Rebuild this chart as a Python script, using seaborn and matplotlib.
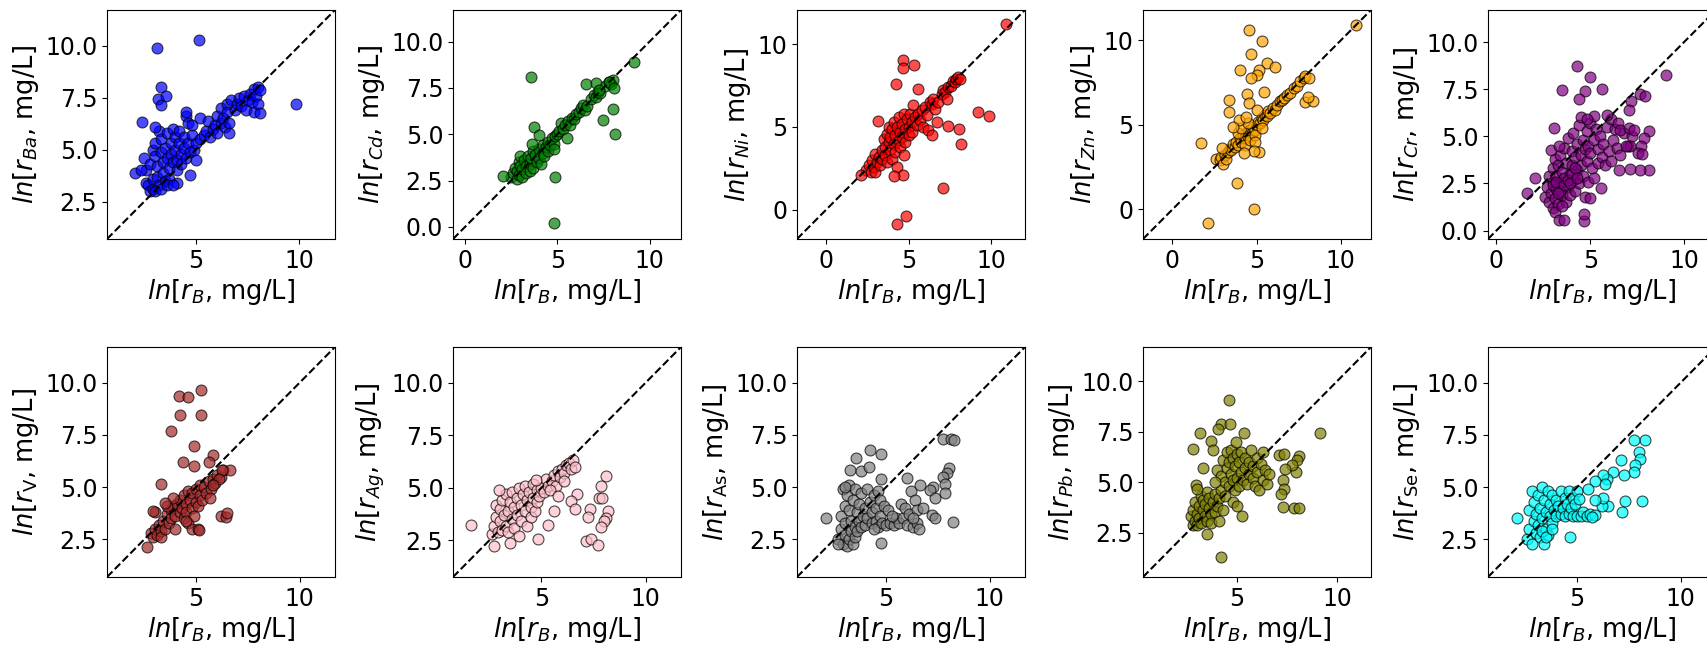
import matplotlib
matplotlib.use("Agg")
import matplotlib.pyplot as plt
import seaborn as sns
import numpy as np
from matplotlib.ticker import MultipleLocator

# ---------------- data (ln concentrations) ----------------
ba_x = [2.5,2.6,2.6,2.7,2.8,2.9,2.9,2.8,2.9,3.0,3.0,3.1,3.1,3.2,3.2,3.0,3.3,3.3,3.4,3.4,3.5,3.5,3.6,3.6,3.7,3.7,3.8,3.8,3.9,3.9,
        4.0,4.0,4.1,4.1,4.1,4.2,4.2,4.3,4.3,4.4,4.4,4.5,4.5,4.5,4.6,4.6,4.7,4.7,4.8,4.8,4.9,5.0,5.0,5.2,5.2,5.4,5.5,5.6,5.7,5.8,
        5.9,6.0,6.0,6.2,6.2,6.3,6.4,6.5,6.5,6.6,6.6,6.7,6.9,7.0,7.1,7.2,7.3,7.4,7.5,7.6,7.7,7.8,7.8,7.9,8.0,8.0,8.1,8.1,2.05,2.4,
        2.35,3.0,3.3,3.6,3.9,3.1,5.15,9.85,3.3,3.15,3.55,3.3]
ba_y = [4.6,4.0,3.4,3.3,3.0,3.1,3.6,4.3,5.0,5.3,4.7,4.2,3.7,3.3,5.9,6.1,5.5,4.9,4.4,3.9,3.5,5.1,5.8,4.6,4.1,3.6,5.3,4.8,4.4,6.0,
        5.6,5.0,4.5,4.0,3.4,5.3,5.9,4.8,4.3,5.6,5.1,4.6,6.6,6.8,6.3,5.3,4.9,3.8,5.7,6.2,5.0,5.3,4.5,5.5,6.5,5.7,5.9,6.4,5.6,6.0,
        6.2,6.6,5.8,6.3,7.0,6.5,6.1,7.2,6.8,6.3,5.8,7.4,6.9,7.2,7.5,7.1,7.6,6.9,7.4,7.7,7.3,7.9,6.8,7.6,8.0,7.2,6.75,7.85,3.9,6.35,
        4.0,3.0,3.1,3.3,3.3,9.9,10.3,7.2,8.0,7.45,7.6,7.15]

cd_x = [2.5,2.6,2.7,2.8,2.8,2.9,2.9,3.0,3.0,3.1,3.1,3.2,3.3,3.3,3.4,3.5,3.5,3.6,3.7,3.7,3.8,3.9,4.0,4.0,4.1,4.2,4.2,4.3,4.4,4.5,
        4.5,4.6,4.7,4.8,4.8,4.9,5.0,5.1,5.2,5.3,5.4,5.6,5.7,5.8,5.9,6.0,6.2,6.3,6.4,6.5,6.6,6.8,7.0,7.1,7.2,7.3,7.6,7.8,7.9,8.0,
        3.55,9.16,8.0,8.12,7.45,4.85,4.81,2.06,3.72,3.99,5.53,6.55,7.09,7.27,7.8,8.08,3.63]
cd_y = [2.7,2.9,3.2,2.6,3.0,3.5,2.8,3.8,3.3,2.7,3.1,3.6,3.3,2.9,3.8,3.4,3.0,3.7,4.1,3.2,3.9,3.5,4.2,3.7,3.4,4.0,4.4,3.8,4.3,4.6,
        4.1,4.4,4.8,4.5,4.2,4.9,5.0,5.2,5.6,5.3,5.5,5.7,5.5,5.9,5.8,6.1,6.2,6.4,6.6,6.3,6.5,6.9,7.1,7.0,7.3,7.2,7.6,7.8,7.7,7.9,
        8.07,8.92,6.34,4.99,5.77,2.70,0.22,2.74,5.37,4.95,4.77,7.71,7.75,7.39,7.84,7.48,4.5]

ni_x = [2.4,2.6,2.7,2.8,2.9,3.0,3.0,3.1,3.2,3.3,3.4,3.4,3.5,3.6,3.6,3.7,3.7,3.8,3.8,3.9,3.9,4.0,4.0,4.1,4.1,4.2,4.2,4.3,4.3,4.4,
        4.4,4.5,4.5,4.6,4.6,4.7,4.7,4.8,4.8,4.9,5.0,5.0,5.1,5.2,5.2,5.3,5.4,5.5,5.6,5.7,5.8,5.9,6.0,6.1,6.2,6.3,6.4,6.4,6.5,6.6,
        6.7,6.8,7.0,7.1,7.2,7.3,7.4,7.6,7.7,7.8,7.9,8.0,8.1,
        10.9,4.68,4.64,5.34,4.27,5.6,9.21,9.88,7.36,8.06,8.17,7.06,4.29,4.84,3.17,2.12,4.64,4.13]
ni_y = [2.4,2.7,2.3,3.0,2.6,3.4,2.3,2.9,3.2,2.7,3.6,3.1,4.3,3.8,3.3,4.6,2.9,4.1,5.0,3.6,4.4,4.9,3.1,4.0,5.3,4.5,3.5,2.6,5.0,4.2,
        5.6,4.7,3.8,5.2,4.4,5.8,3.3,4.9,4.1,5.5,5.0,4.5,5.8,5.3,4.7,6.3,5.6,5.1,5.8,5.4,6.0,5.0,6.2,5.7,4.8,6.5,6.4,4.5,6.7,6.1,
        5.3,6.5,7.0,7.2,7.1,6.7,7.4,7.5,7.8,7.7,7.9,8.0,7.9,
        11.2,9.05,8.53,8.75,7.59,7.29,5.88,5.68,5.08,4.88,4.0,1.33,-0.84,-0.34,5.38,2.13,2.13,2.07]

zn_x = [2.6,2.8,2.9,3.0,3.1,3.2,3.3,3.4,3.5,3.6,3.7,3.8,3.9,4.0,4.1,4.2,4.3,4.4,4.5,4.6,4.7,4.8,4.9,5.0,5.1,5.2,5.3,5.4,5.5,5.6,
        5.7,5.8,6.0,6.1,6.2,6.4,6.5,6.6,6.8,7.0,7.2,7.4,7.6,7.8,7.9,8.1,4.3,4.6,4.9,3.9,4.1,4.5,4.9,5.3,
        10.9,4.56,5.3,4.66,4.0,5.61,6.11,5.12,5.0,4.66,5.42,4.46,4.52,3.37,3.37,1.69,2.12,3.81,4.86,7.9,8.33,8.04,
        3.97,4.37,5.0,3.57,5.12,4.86,4.23,2.94]
zn_y = [3.0,2.9,3.1,2.7,3.2,3.0,3.4,3.6,3.5,3.9,3.7,4.0,3.8,4.2,4.0,4.4,4.2,4.5,4.3,4.7,4.5,4.9,4.7,5.0,5.2,5.1,5.4,5.3,5.6,5.5,
        5.8,5.7,6.0,5.9,6.2,6.4,6.5,6.6,6.8,6.9,7.2,7.3,7.6,7.8,7.9,7.8,3.8,4.1,4.4,4.5,4.8,5.1,4.0,4.8,
        10.9,10.59,9.96,9.18,8.27,8.69,8.43,8.24,7.94,7.8,6.96,6.82,6.27,6.47,5.78,3.92,-0.82,1.57,0.0,6.37,6.41,6.67,
        5.29,5.49,5.88,4.9,3.37,3.43,3.33,3.63]

cr_x = [2.6,2.7,2.8,2.8,2.9,3.0,3.0,3.0,3.1,3.1,3.2,3.2,3.3,3.3,3.4,3.4,3.5,3.5,3.6,3.6,3.7,3.7,3.8,3.8,3.9,3.9,4.0,4.0,4.1,4.1,
        4.2,4.2,4.3,4.3,4.4,4.4,4.5,4.5,4.6,4.6,4.7,4.7,4.8,4.8,4.9,4.9,5.0,5.0,5.1,5.2,5.2,5.3,5.4,5.4,5.5,5.6,5.7,5.8,5.9,6.0,
        6.1,6.1,6.2,6.3,6.4,6.5,6.6,6.8,7.0,7.2,5.2,4.5,4.8,
        3.0,3.2,3.4,3.6,3.8,4.0,4.2,3.1,3.3,3.5,3.9,4.3,
        9.03,4.27,5.0,5.61,4.74,4.39,3.47,7.64,7.92,7.17,7.08,1.61,2.08,3.35,3.61,4.65,4.69,8.13,7.86,7.69,7.52,7.78,7.14,6.91,
        8.13,7.66,7.12,6.51,3.09,2.92,3.35,6.56,7.05,7.34,5.87,5.56,5.0]
cr_y = [1.8,2.3,1.5,2.9,2.0,1.2,2.6,3.3,1.7,3.8,2.2,2.9,1.4,3.5,2.5,4.0,1.9,3.1,2.8,4.4,1.5,3.6,2.3,4.9,3.0,1.9,4.2,3.5,2.7,5.2,
        3.9,2.1,4.6,3.2,5.6,2.5,4.0,3.5,4.8,2.9,1.8,4.3,5.3,3.7,4.5,2.6,4.1,5.7,3.3,4.8,2.8,5.4,4.3,3.6,5.0,3.9,4.6,3.5,5.5,4.2,
        5.9,3.7,4.8,5.4,4.4,5.7,4.0,5.2,4.5,5.0,6.1,6.0,5.9,
        2.4,2.6,2.1,2.4,2.7,3.0,3.3,1.0,2.0,1.3,2.5,2.8,
        8.23,8.75,8.14,7.53,7.39,6.98,7.44,7.26,7.12,6.86,6.41,2.0,2.76,0.58,0.58,0.49,0.9,5.27,4.91,4.51,4.12,4.08,4.47,4.47,
        3.2,3.23,3.27,3.23,5.44,4.29,4.47,5.35,5.44,5.35,6.15,2.23,1.73]

v_x = [2.8,2.9,3.0,3.1,3.2,3.3,3.3,3.4,3.5,3.6,3.7,3.8,3.8,3.9,4.0,4.0,4.1,4.2,4.2,4.3,4.4,4.4,4.5,4.5,4.6,4.6,4.7,4.8,4.8,4.9,
       5.0,5.0,5.1,5.2,5.2,5.3,5.4,5.5,5.6,5.7,5.8,5.9,6.0,6.2,6.3,3.0,3.6,3.9,4.8,5.1,4.5,
       4.16,4.63,5.24,4.21,5.24,3.81,4.92,4.37,4.92,5.79,5.6,3.3,2.9,2.62,6.19,6.43,6.48,6.62,6.27,6.11,5.79,5.67,5.16,3.52]
v_y = [2.8,2.6,3.0,2.7,3.2,2.9,2.6,3.4,3.0,3.7,3.3,3.9,3.5,4.1,3.6,3.0,4.2,3.8,4.4,4.0,3.5,4.6,4.2,3.8,4.8,3.3,4.4,4.0,4.7,3.6,
       4.3,4.9,4.1,4.6,5.1,4.4,5.0,4.7,5.3,4.9,5.4,5.2,5.6,5.5,5.8,3.8,4.1,4.5,3.0,3.0,3.4,
       9.36,9.32,9.63,8.44,8.44,7.68,6.97,6.21,6.02,6.53,6.21,5.14,3.87,2.12,3.63,3.58,3.77,5.81,5.81,5.41,5.10,4.46,2.95,4.25]

ag_x = [2.6,2.7,2.8,2.8,2.9,3.0,3.0,3.1,3.1,3.2,3.3,3.3,3.4,3.4,3.5,3.6,3.6,3.7,3.7,3.8,3.8,3.9,3.9,4.0,4.0,4.1,4.2,4.2,4.3,4.3,
        4.4,4.5,4.5,4.6,4.6,4.7,4.8,4.8,4.9,5.0,5.1,5.2,5.3,5.5,5.6,5.7,5.8,5.9,6.0,6.1,6.2,6.3,6.4,6.5,6.6,6.1,5.4,
        1.61,8.08,7.84,7.76,7.92,6.69,6.44,6.61,7.33,7.21,8.2,8.08,8.0,7.84,7.13,7.37,7.73,5.8,5.61,5.29,4.81,2.73,3.48,2.97,4.73]
ag_y = [2.8,3.2,3.6,4.2,2.9,3.4,4.0,3.0,4.4,3.7,3.2,4.7,3.9,2.9,4.3,3.5,4.8,3.1,4.1,3.7,4.5,2.7,5.0,4.2,3.4,4.7,3.9,5.1,4.4,3.2,
        4.8,4.1,3.6,5.2,4.5,3.9,4.9,4.3,4.6,5.0,4.8,5.4,5.1,5.3,5.6,5.1,5.8,5.5,5.9,5.7,6.1,6.2,5.9,6.3,6.0,5.3,4.9,
        3.22,5.57,5.1,4.49,4.49,4.7,4.38,4.01,3.98,3.63,3.9,3.58,3.42,3.15,2.47,2.55,2.28,4.59,3.9,3.23,2.55,2.23,2.39,4.9,5.37]

as_x = [2.7,2.8,2.8,2.9,2.9,3.0,3.0,3.0,3.1,3.1,3.2,3.2,3.2,3.3,3.3,3.4,3.4,3.5,3.5,3.5,3.6,3.6,3.7,3.7,3.8,3.8,3.9,4.0,4.0,4.1,
        4.1,4.2,4.3,4.3,4.4,4.5,4.5,4.6,4.6,4.7,4.7,4.8,4.9,5.0,5.1,5.2,5.4,5.5,5.6,5.7,5.8,5.9,6.0,6.1,6.2,6.3,6.4,6.5,6.5,6.3,
        6.6,5.3,4.4,3.0,
        2.11,4.22,4.73,3.57,3.25,3.78,4.17,4.73,6.0,7.75,8.11,8.27,8.02,7.95,7.75,7.83,7.83,7.27,7.11,7.35,6.63,6.76,7.19,7.35,
        8.22,4.73,2.67]
as_y = [2.5,3.0,3.6,4.9,2.3,4.1,2.7,3.3,4.6,2.2,3.9,2.5,5.1,3.4,2.9,4.4,2.3,3.1,4.9,2.6,3.8,2.9,3.4,4.2,3.1,4.7,3.6,4.0,3.2,3.5,
        4.9,4.3,3.3,3.8,4.6,3.4,4.0,4.8,3.1,3.6,4.4,3.3,4.1,3.2,3.9,3.3,3.2,3.5,3.3,4.2,3.5,4.0,3.2,3.7,4.8,3.1,4.4,3.3,3.9,3.5,
        3.0,3.6,3.0,5.0,
        3.5,6.77,6.56,6.4,5.84,5.78,5.97,5.41,5.45,7.28,7.32,7.25,5.92,5.65,5.46,5.13,4.7,5.02,4.86,4.5,5.1,3.98,3.66,3.53,
        3.34,2.31,2.28]

pb_x = [2.7,2.8,2.8,2.9,2.9,3.0,3.0,3.1,3.1,3.2,3.2,3.3,3.3,3.4,3.4,3.5,3.5,3.6,3.6,3.7,3.7,3.8,3.9,3.9,4.0,4.1,4.1,4.2,4.3,
        4.0,4.2,4.3,4.4,4.5,4.5,4.6,4.6,4.7,4.7,4.8,4.8,4.9,4.9,5.0,5.0,5.1,5.1,5.2,5.2,5.3,5.4,5.4,5.5,5.6,5.6,5.7,5.8,5.8,5.9,
        6.0,6.0,6.1,6.2,6.3,6.3,6.4,6.5,6.6,4.4,4.8,5.0,
        4.6,9.17,4.22,4.64,4.06,3.15,3.68,2.82,3.78,4.97,5.33,7.11,7.36,8.1,8.02,7.94,7.77,7.39,7.28,7.36,7.2,7.28,7.85,8.1,
        4.22,3.51,5.26,3.32,3.89,2.94,2.99]
pb_y = [3.3,2.9,3.6,3.1,4.0,3.4,2.9,3.8,3.2,4.3,3.0,3.6,4.1,3.3,3.9,4.5,3.1,3.7,4.2,3.4,3.0,4.0,3.5,4.4,3.8,4.2,3.1,4.6,3.6,
        5.6,5.3,6.1,5.0,5.7,6.5,4.8,6.0,5.4,6.6,5.1,6.2,4.6,5.8,6.4,5.2,4.8,6.0,5.5,6.5,5.1,6.2,5.7,4.9,6.0,5.4,6.6,5.2,5.8,4.8,
        6.2,5.5,4.6,5.9,5.1,6.5,5.6,4.9,5.4,4.3,4.0,3.8,
        9.09,7.45,7.89,7.89,7.64,7.45,7.02,6.62,6.57,6.98,7.45,6.36,6.41,6.29,6.08,5.5,5.83,5.67,5.09,4.68,4.43,3.77,3.72,3.72,
        1.27,2.45,3.32,5.7,5.0,4.88,4.68]

se_x = [2.6,2.7,2.7,2.8,2.8,2.9,2.9,3.0,3.0,3.1,3.1,3.2,3.2,3.3,3.3,3.4,3.4,3.5,3.5,3.6,3.6,3.7,3.7,3.8,3.8,3.9,4.0,4.0,4.1,4.2,
        4.2,4.3,4.4,4.4,4.5,4.6,4.6,4.7,4.8,4.8,4.9,5.0,5.0,5.2,5.3,5.5,5.6,3.3,3.5,3.8,
        2.11,4.65,8.14,8.29,7.73,7.97,8.02,7.78,7.73,7.25,7.14,7.3,7.17,6.75,6.43,6.27,6.35,6.51,6.19,6.27,5.84,5.87,5.71,5.87,
        5.51,5.08]
se_y = [2.5,3.0,3.9,4.8,2.3,3.4,4.3,2.8,3.7,4.6,3.2,2.6,4.0,5.0,3.5,2.3,4.4,3.8,3.0,4.8,2.7,3.6,4.2,3.3,4.6,3.9,3.6,4.4,4.1,3.7,
        4.8,4.0,3.6,4.5,4.2,3.7,4.8,4.0,3.6,4.5,4.2,3.6,4.8,3.6,3.8,3.6,3.7,2.9,2.6,3.0,
        3.53,2.6,4.34,7.23,7.23,6.67,6.35,6.04,5.72,5.56,6.28,4.33,3.81,5.72,5.37,5.56,5.14,4.1,4.1,4.49,4.37,3.66,3.58,5.3,
        4.9,4.45]

# panel definitions: (x, y, subscript, colour, lower lim, upper lim, ytick step, xtick step)
panels = [
    (ba_x, ba_y, "Ba", "blue",   0.70, 11.72, 2.5, 5),
    (cd_x, cd_y, "Cd", "green", -0.65, 11.70, 2.5, 5),
    (ni_x, ni_y, "Ni", "red",   -1.75, 12.05, 5,   5),
    (zn_x, zn_y, "Zn", "orange",-1.75, 11.80, 5,   5),
    (cr_x, cr_y, "Cr", "purple",-0.45, 11.70, 2.5, 5),
    (v_x,  v_y,  r"\mathrm{V}",  "brown",  0.70, 11.70, 2.5, 5),
    (ag_x, ag_y, "Ag", "pink",   0.75, 11.70, 2.5, 5),
    (as_x, as_y, r"\mathrm{As}", "gray",   0.70, 11.70, 2.5, 5),
    (pb_x, pb_y, "Pb", "olive",  0.30, 11.70, 2.5, 5),
    (se_x, se_y, r"\mathrm{Se}", "cyan",   0.70, 11.70, 2.5, 5),
]

W, H = 1708, 645
fig = plt.figure(figsize=(W / 100, H / 100), dpi=100)
lefts = [107, 453, 797, 1143, 1488]
rows = [(10, 239), (347, 577)]
aw = 228

for i, (x, y, sub, col, lo, hi, ystep, xstep) in enumerate(panels):
    r, c = divmod(i, 5)
    top, bot = rows[r]
    ax = fig.add_axes([lefts[c] / W, 1 - bot / H, aw / W, (bot - top) / H])
    sns.scatterplot(x=np.array(x), y=np.array(y), ax=ax, color=col, alpha=0.7,
                    edgecolor="black", linewidth=0.8, s=62, legend=False)
    ax.plot([lo, hi], [lo, hi], "k--", lw=1.5, zorder=3)
    ax.set_xlim(lo, hi)
    ax.set_ylim(lo, hi)
    ax.xaxis.set_major_locator(MultipleLocator(xstep))
    ax.yaxis.set_major_locator(MultipleLocator(ystep))
    ax.tick_params(labelsize=17)
    ax.set_xlabel(r"$ln[r_B$, mg/L]", fontsize=18.5, labelpad=3)
    ax.set_ylabel(r"$ln[r_{%s}$, mg/L]" % sub, fontsize=18.5, labelpad=3)

fig.savefig("out.png", dpi=100)
